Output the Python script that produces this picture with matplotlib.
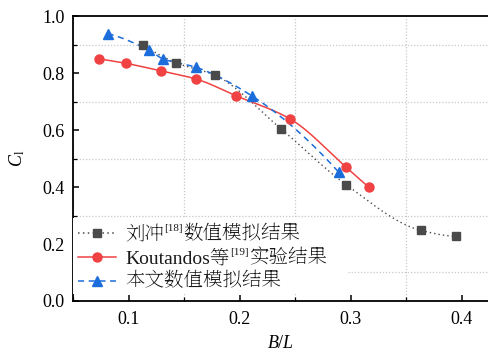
import numpy as np
import matplotlib
matplotlib.use("Agg")
import matplotlib.pyplot as plt
from matplotlib.ticker import MultipleLocator, FormatStrFormatter
from matplotlib.offsetbox import AnchoredOffsetbox, HPacker, VPacker, TextArea, DrawingArea
from matplotlib.lines import Line2D
from matplotlib.text import Text

plt.rcParams["font.family"] = ["Liberation Serif", "Noto Serif SC"]
plt.rcParams["mathtext.fontset"] = "custom"
plt.rcParams["mathtext.rm"] = "Liberation Serif"
plt.rcParams["mathtext.it"] = "Liberation Serif:italic"

# 刘冲[18] numerical results
liu_x = [0.113, 0.143, 0.178, 0.237, 0.296, 0.363, 0.395]
liu_y = [0.898, 0.836, 0.792, 0.605, 0.408, 0.248, 0.227]

# Koutandos et al. [19] experiment
kou_x = [0.073, 0.098, 0.129, 0.161, 0.197, 0.245, 0.296, 0.316]
kou_y = [0.850, 0.834, 0.808, 0.779, 0.720, 0.640, 0.469, 0.400]

# present numerical results
ours_x = [0.081, 0.118, 0.131, 0.161, 0.211, 0.289]
ours_y = [0.939, 0.881, 0.850, 0.820, 0.720, 0.453]

xticks = [0.1, 0.2, 0.3, 0.4]
yticks = [0.0, 0.2, 0.4, 0.6, 0.8, 1.0]

label_liu = ("刘冲", "[18]", "数值模拟结果")
label_kou = ("Koutandos等", "[19]", "实验结果")
label_ours = ("本文数值模拟结果", "", "")

C_GREY = "#4a4a4a"
C_RED = "#f04242"
C_BLUE = "#1c6ddc"
C_TEXT = "#1a1a1a"

LS_LIU = (0, (1, 2.2))
LS_OURS = (0, (4, 3))


def pchip(x, y, n=200):
    """Shape-preserving piecewise cubic Hermite curve through the points."""
    x = np.asarray(x, float)
    y = np.asarray(y, float)
    h = np.diff(x)
    delta = np.diff(y) / h
    m = len(x)
    d = np.zeros(m)
    for k in range(1, m - 1):
        if delta[k - 1] * delta[k] > 0:
            w1 = 2 * h[k] + h[k - 1]
            w2 = h[k] + 2 * h[k - 1]
            d[k] = (w1 + w2) / (w1 / delta[k - 1] + w2 / delta[k])

    def end(h0, h1, d0, d1):
        s = ((2 * h0 + h1) * d0 - h0 * d1) / (h0 + h1)
        if np.sign(s) != np.sign(d0):
            s = 0.0
        elif np.sign(d0) != np.sign(d1) and abs(s) > abs(3 * d0):
            s = 3 * d0
        return s

    d[0] = end(h[0], h[1], delta[0], delta[1])
    d[-1] = end(h[-1], h[-2], delta[-1], delta[-2])
    xs = np.linspace(x[0], x[-1], n)
    idx = np.clip(np.searchsorted(x, xs) - 1, 0, m - 2)
    t = (xs - x[idx]) / h[idx]
    h00 = 2 * t**3 - 3 * t**2 + 1
    h10 = t**3 - 2 * t**2 + t
    h01 = -2 * t**3 + 3 * t**2
    h11 = t**3 - t**2
    ys = h00 * y[idx] + h10 * h[idx] * d[idx] + h01 * y[idx + 1] + h11 * h[idx] * d[idx + 1]
    return xs, ys


fig = plt.figure(figsize=(4.88, 3.52), dpi=100)
ax = fig.add_axes([0.150, 0.145, 0.850, 0.809])

ax.set_xlim(0.05, 0.4236)
ax.set_ylim(0.0, 1.0)

# smoothed connecting curves
sx, sy = pchip(liu_x, liu_y)
ax.plot(sx, sy, color=C_GREY, ls=LS_LIU, lw=1.0, zorder=2)
sx, sy = pchip(kou_x, kou_y)
ax.plot(sx, sy, color=C_RED, ls="-", lw=1.1, zorder=2)
sx, sy = pchip(ours_x, ours_y)
ax.plot(sx, sy, color=C_BLUE, ls=LS_OURS, lw=1.1, zorder=2)

ax.plot(liu_x, liu_y, ls="none", marker="s", ms=5.5, color=C_GREY, zorder=3)
ax.plot(kou_x, kou_y, ls="none", marker="o", ms=6.5, color=C_RED, zorder=3)
ax.plot(ours_x, ours_y, ls="none", marker="^", ms=7.2, color=C_BLUE, zorder=3)

ax.xaxis.set_major_locator(plt.FixedLocator(xticks))
ax.yaxis.set_major_locator(plt.FixedLocator(yticks))
ax.xaxis.set_minor_locator(MultipleLocator(0.05))
ax.yaxis.set_minor_locator(MultipleLocator(0.1))
ax.xaxis.set_major_formatter(FormatStrFormatter("%.1f"))
ax.yaxis.set_major_formatter(FormatStrFormatter("%.1f"))

# grid only on the minor positions between labelled ticks
ax.grid(False, which="major")
ax.grid(True, which="minor", color="#c8c8c8", ls=(0, (1, 1.5)), lw=0.9)
ax.set_axisbelow(True)

ax.tick_params(which="major", direction="in", length=4.5, width=1.1,
               labelsize=13, top=False, right=False, colors="black")
ax.tick_params(which="minor", direction="in", length=3, width=0.9,
               top=False, right=False)
ax.tick_params(axis="x", which="major", pad=7)
ax.tick_params(axis="y", which="major", pad=6)
for side in ("left", "bottom", "top"):
    ax.spines[side].set_linewidth(1.3)
ax.spines["right"].set_visible(False)

ax.set_xlabel("$B/L$", fontsize=13, labelpad=5)
ax.set_ylabel(r"$C_\mathrm{l}$", fontsize=13, labelpad=11)


def handle(color, ls, marker, ms):
    da = DrawingArea(27.5, 8, 0, 0)
    da.add_artist(Line2D([0, 27.5], [4, 4], color=color, ls=ls, lw=1.1))
    da.add_artist(Line2D([13.75], [4], marker=marker, ms=ms, color=color, ls="none"))
    return da


def superscript(s, size=8.0, rise=6.0):
    # small raised reference mark; the box baseline sits on the text baseline
    width = 0.42 * size * len(s) + 0.6
    da = DrawingArea(width, rise + 0.7 * size, 0, 0)
    da.add_artist(Text(0.3, rise, s, fontsize=size, color=C_TEXT,
                       ha="left", va="baseline"))
    return da


def label_box(parts):
    head, sup, tail = parts
    tp = dict(fontsize=14, color=C_TEXT)
    kids = [TextArea(head, textprops=tp)]
    if sup:
        kids.append(superscript(sup))
    if tail:
        kids.append(TextArea(tail, textprops=tp))
    return HPacker(children=kids, align="baseline", pad=0, sep=0)


rows = []
for parts, col, ls, mk, ms in [
    (label_liu, C_GREY, LS_LIU, "s", 5.5),
    (label_kou, C_RED, "-", "o", 6.5),
    (label_ours, C_BLUE, LS_OURS, "^", 7.2),
]:
    rows.append(HPacker(children=[handle(col, ls, mk, ms), label_box(parts)],
                        align="center", pad=0, sep=6.5))

box = VPacker(children=rows, align="left", pad=0, sep=3)
box = HPacker(children=[box, DrawingArea(12, 1, 0, 0)], align="center", pad=0, sep=0)
legend = AnchoredOffsetbox(loc="lower left", child=box, pad=0.34, borderpad=0,
                           frameon=True, bbox_to_anchor=(0.0, 0.023),
                           bbox_transform=ax.transAxes)
legend.patch.set_facecolor("white")
legend.patch.set_edgecolor("none")
legend.patch.set_boxstyle("square", pad=0)
ax.add_artist(legend)

fig.savefig("out.png", dpi=100)
